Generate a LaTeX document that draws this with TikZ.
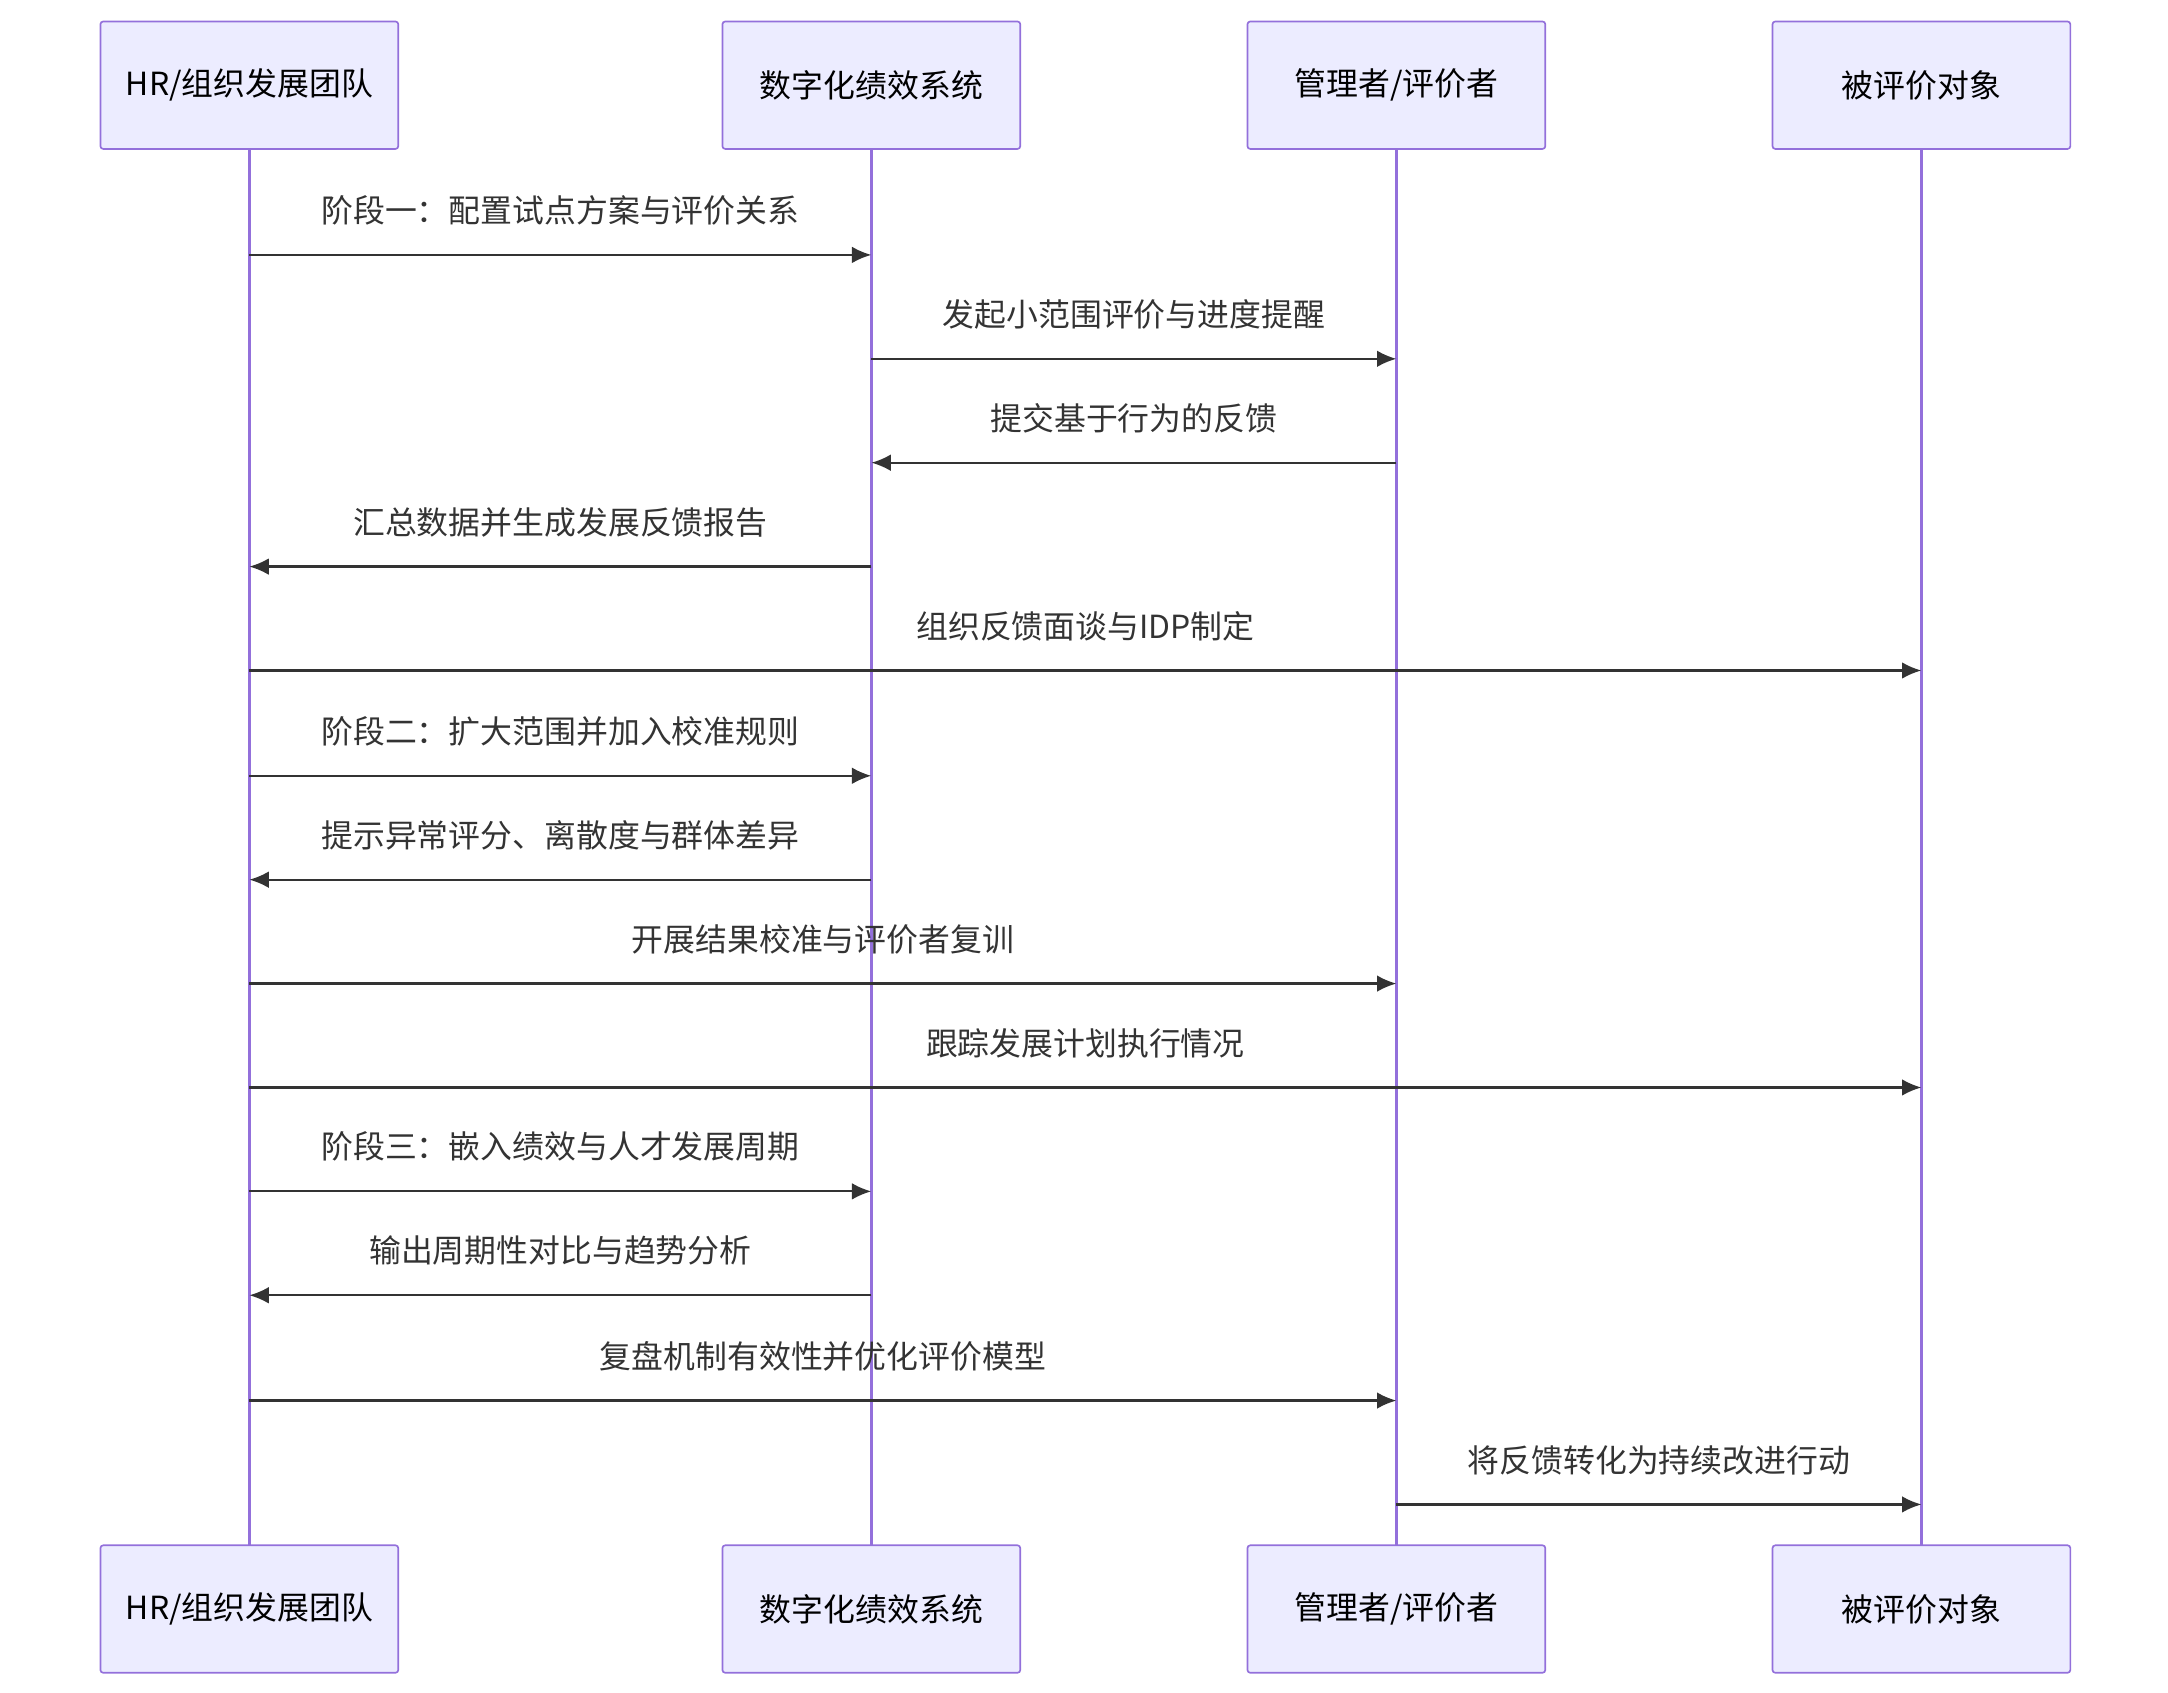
\documentclass[tikz,border=0pt]{standalone}
\usepackage{fontspec}
\setmainfont{Noto Sans CJK SC}
\usetikzlibrary{arrows.meta}
\definecolor{boxfill}{HTML}{ECECFF}
\definecolor{boxline}{HTML}{9370DB}
\definecolor{msg}{HTML}{333333}
\tikzset{
  actor/.style={draw=boxline,fill=boxfill,line width=0.6pt,minimum width=107.5pt,minimum height=46pt,font=\fontsize{11.5}{13}\selectfont,rounded corners=1pt,inner sep=0pt},
  life/.style={draw=boxline,line width=1pt},
  mline/.style={draw=msg,line width=0.8pt,-{Latex[length=7pt,width=6pt]}},
  mlab/.style={font=\fontsize{11.5}{13}\selectfont,text=msg,above=7pt,midway}
}
\begin{document}
\begin{tikzpicture}[x=0.5pt,y=-0.5pt]
\useasboundingbox (0,0) rectangle (1565,1222);
\foreach \n/\x/\t in {a/180/{HR/组织发展团队},b/629/{数字化绩效系统},c/1008/{管理者/评价者},d/1387/{被评价对象}}{
  \draw[life] (\x,108) -- (\x,1115);
  \node[actor] (\n top) at (\x,61.5) {\t};
  \node[actor] (\n bot) at (\x,1161.5) {\t};
  \coordinate (\n) at (\x,0);
}
\foreach \i/\y in {1/184,2/259,3/334,4/409,5/484,6/560,7/635,8/710,9/785,10/860,11/935,12/1011,13/1086}{
  \coordinate (r\i) at (0,\y);
}
\draw[mline] (a |- r1) -- node[mlab]{阶段一：配置试点方案与评价关系} (b |- r1);
\draw[mline] (b |- r2) -- node[mlab]{发起小范围评价与进度提醒} (c |- r2);
\draw[mline] (c |- r3) -- node[mlab]{提交基于行为的反馈} (b |- r3);
\draw[mline] (b |- r4) -- node[mlab]{汇总数据并生成发展反馈报告} (a |- r4);
\draw[mline] (a |- r5) -- node[mlab]{组织反馈面谈与IDP制定} (d |- r5);
\draw[mline] (a |- r6) -- node[mlab]{阶段二：扩大范围并加入校准规则} (b |- r6);
\draw[mline] (b |- r7) -- node[mlab]{提示异常评分、离散度与群体差异} (a |- r7);
\draw[mline] (a |- r8) -- node[mlab]{开展结果校准与评价者复训} (c |- r8);
\draw[mline] (a |- r9) -- node[mlab]{跟踪发展计划执行情况} (d |- r9);
\draw[mline] (a |- r10) -- node[mlab]{阶段三：嵌入绩效与人才发展周期} (b |- r10);
\draw[mline] (b |- r11) -- node[mlab]{输出周期性对比与趋势分析} (a |- r11);
\draw[mline] (a |- r12) -- node[mlab]{复盘机制有效性并优化评价模型} (c |- r12);
\draw[mline] (c |- r13) -- node[mlab]{将反馈转化为持续改进行动} (d |- r13);
\end{tikzpicture}
\end{document}
